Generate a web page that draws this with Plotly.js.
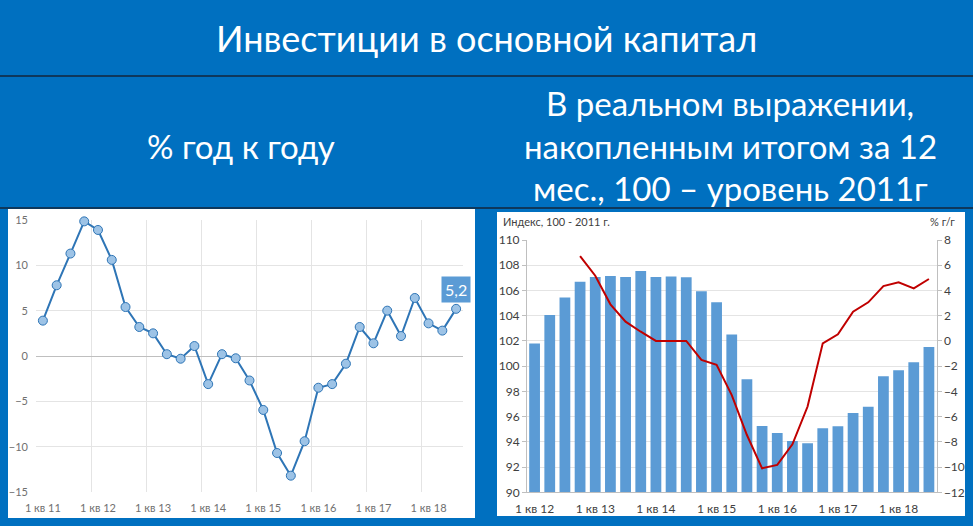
<!DOCTYPE html>
<html><head><meta charset="utf-8">
<script src="https://cdn.plot.ly/plotly-3.0.1.min.js"></script>
<style>html,body{margin:0;padding:0;background:#0070C0;overflow:hidden}#chart{width:973px;height:526px}</style>
</head><body><div id="chart"></div>
<script>
const quarters = ["1 кв 11","2 кв 11","3 кв 11","4 кв 11","1 кв 12","2 кв 12","3 кв 12","4 кв 12",
  "1 кв 13","2 кв 13","3 кв 13","4 кв 13","1 кв 14","2 кв 14","3 кв 14","4 кв 14",
  "1 кв 15","2 кв 15","3 кв 15","4 кв 15","1 кв 16","2 кв 16","3 кв 16","4 кв 16",
  "1 кв 17","2 кв 17","3 кв 17","4 кв 17","1 кв 18","2 кв 18","3 кв 18"];
const yoyGrowth = [3.9, 7.8, 11.3, 14.85, 13.9, 10.6, 5.4, 3.2, 2.5, 0.2, -0.3, 1.1, -3.1, 0.2, -0.25, -2.7,
  -5.95, -10.7, -13.2, -9.4, -3.5, -3.1, -0.85, 3.2, 1.4, 5.0, 2.2, 6.4, 3.6, 2.8, 5.2];
const yoyLabel = "5,2";
const quartersRight = quarters.slice(4);
const indexLevel = [101.8, 104.05, 105.45, 106.7, 107.07, 107.15, 107.07, 107.55, 107.07, 107.1, 107.04, 105.93,
  105.06, 102.5, 98.96, 95.26, 94.7, 94.07, 93.88, 95.07, 95.23, 96.29, 96.79, 99.19, 99.67, 100.3, 101.52];
const cumGrowth = [null, null, null, 6.73, 5.17, 2.9, 1.53, 0.73, 0, 0, 0, -1.51, -1.9, -4.29, -7.46, -10.1,
  -9.83, -8.2, -5.2, -0.19, 0.52, 2.32, 3.06, 4.35, 4.64, 4.17, 4.91];

const W = 973, H = 526;
const px = x => x / W, py = y => 1 - y / H;
const FONT = "Lato, 'Noto Sans', sans-serif";

const traces = [
  {type:'scatter', mode:'lines+markers', x:quarters, y:yoyGrowth, xaxis:'x', yaxis:'y', cliponaxis:false,
   line:{color:'#2E75B6', width:2}, marker:{size:9, color:'#9DC3E6', line:{color:'#2E75B6', width:1}},
   hoverinfo:'skip'},
  {type:'bar', x:quartersRight, y:indexLevel, xaxis:'x2', yaxis:'y2', marker:{color:'#5B9BD5'}, hoverinfo:'skip'},
  {type:'scatter', mode:'lines', x:quartersRight, y:cumGrowth, xaxis:'x2', yaxis:'y3',
   line:{color:'#C00000', width:2}, connectgaps:false, hoverinfo:'skip'}
];

function head(x, y, text, size) {
  return {xref:'paper', yref:'paper', x:px(x), y:py(y), xanchor:'center', yanchor:'middle', text:text,
    showarrow:false, font:{size:size, color:'#FFFFFF', family:FONT}};
}

const layout = {
  width:W, height:H, margin:{l:0,r:0,t:0,b:0},
  paper_bgcolor:'#0070C0', plot_bgcolor:'#FFFFFF', showlegend:false, bargap:0.29,
  font:{family:FONT},
  xaxis:{domain:[px(36), px(463)], anchor:'y', type:'category', range:[-0.5,30.5],
    tickmode:'linear', tick0:0, dtick:4, tickson:'boundaries', showgrid:true, gridcolor:'#E4E4E4',
    ticks:'', tickangle:0, ticklabelstandoff:8, zeroline:false, showline:false,
    tickfont:{size:11, color:'#6F6F6F', family:FONT}},
  yaxis:{domain:[py(492), py(220)], anchor:'x', range:[-15,15], tickmode:'linear', tick0:0, dtick:5,
    gridcolor:'#E4E4E4', zeroline:true, zerolinecolor:'#BFBFBF', zerolinewidth:1, ticks:'',
    tickfont:{size:11, color:'#6F6F6F', family:FONT}, ticklabelstandoff:7},
  xaxis2:{domain:[px(527), px(936.5)], anchor:'y2', type:'category', range:[-0.5,26.5],
    tickmode:'linear', tick0:0, dtick:4, showgrid:false, ticks:'', tickangle:0, ticklabelstandoff:5,
    showline:true, linecolor:'#BFBFBF', zeroline:false, tickfont:{size:12, color:'#404040', family:FONT}},
  yaxis2:{domain:[py(492.3), py(240)], anchor:'x2', range:[90,110], tickmode:'linear', tick0:90, dtick:2,
    showline:true, linecolor:'#BFBFBF', ticks:'outside', ticklen:4, tickcolor:'#BFBFBF', gridcolor:'#E4E4E4',
    zeroline:false, tickfont:{size:12, color:'#404040', family:FONT}},
  yaxis3:{overlaying:'y2', side:'right', anchor:'x2', range:[-12,8], tickmode:'linear', tick0:-12, dtick:2,
    showgrid:false, showline:true, linecolor:'#BFBFBF', ticks:'outside', ticklen:4, tickcolor:'#BFBFBF',
    zeroline:false, tickfont:{size:12, color:'#404040', family:FONT}},
  shapes:[
    {type:'rect', xref:'paper', yref:'paper', x0:px(8), x1:px(475), y0:py(518), y1:py(209), fillcolor:'#FFFFFF', line:{width:0}, layer:'below'},
    {type:'rect', xref:'paper', yref:'paper', x0:px(497), x1:px(965), y0:py(516), y1:py(212), fillcolor:'#FFFFFF', line:{width:0}, layer:'below'},
    {type:'line', xref:'paper', yref:'paper', x0:0, x1:1, y0:py(76), y1:py(76), line:{color:'#13263B', width:1.5}},
    {type:'line', xref:'paper', yref:'paper', x0:0, x1:1, y0:py(208), y1:py(208), line:{color:'#13263B', width:1.5}}
  ],
  annotations:[
    head(486, 38, 'Инвестиции в основной капитал', 36),
    head(241, 146, '% год к году', 33),
    head(730, 103, 'В реальном выражении,', 33),
    head(730, 146, 'накопленным итогом за 12', 33),
    head(730, 188, 'мес., 100 – уровень 2011г', 33),
    {xref:'x', yref:'y', x:quarters[quarters.length-1], y:yoyGrowth[yoyGrowth.length-1], text:yoyLabel,
     showarrow:false, yshift:19, bgcolor:'#5B9BD5', borderpad:3, font:{size:16, color:'#FFFFFF', family:FONT}},
    {xref:'paper', yref:'paper', x:px(501), y:py(221), xanchor:'left', yanchor:'middle', text:'Индекс, 100 - 2011 г.', showarrow:false,
     font:{size:11, color:'#404040', family:FONT}},
    {xref:'paper', yref:'paper', x:px(957), y:py(221), xanchor:'right', yanchor:'middle', text:'% г/г', showarrow:false,
     font:{size:11, color:'#404040', family:FONT}}
  ]
};
Plotly.newPlot('chart', traces, layout, {staticPlot:true, displayModeBar:false});
</script></body></html>
